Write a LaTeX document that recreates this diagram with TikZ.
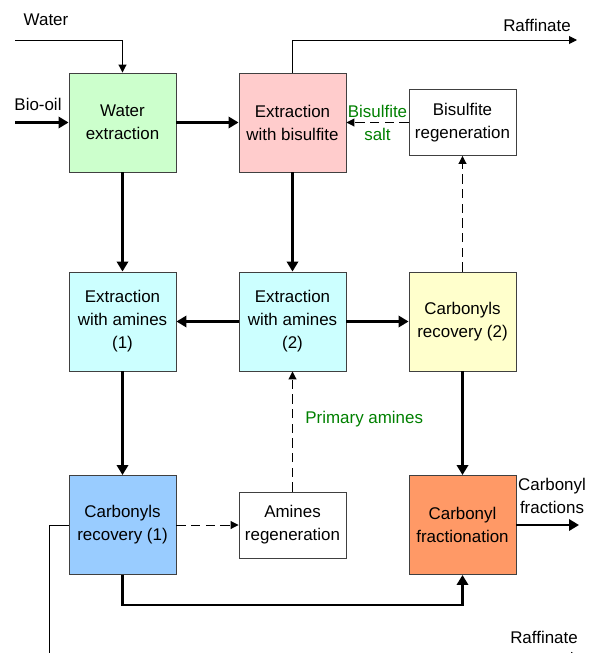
\documentclass[tikz,border=0pt]{standalone}
\usepackage{fontspec}
\setmainfont{Liberation Sans}
\usetikzlibrary{arrows.meta}

\definecolor{wetgreen}{HTML}{CCFFCC}
\definecolor{bispink}{HTML}{FFCCCC}
\definecolor{aminecyan}{HTML}{CCFFFF}
\definecolor{recyellow}{HTML}{FFFFCC}
\definecolor{recblue}{HTML}{99CCFF}
\definecolor{fracorange}{HTML}{FF9966}
\definecolor{labgreen}{HTML}{008000}

\begin{document}
\begin{tikzpicture}[x=0.75pt,y=-0.75pt,
    every node/.style={font=\fontsize{12.7}{17.25}\selectfont, align=center},
    unitbox/.style={draw=black!75, line width=0.7pt, minimum width=80.25pt, minimum height=74.25pt, inner sep=0pt},
    regenbox/.style={draw=black!75, line width=0.7pt, fill=white, minimum width=80.25pt, minimum height=49.5pt, inner sep=0pt},
    mainflow/.style={line width=1.8pt, -{Triangle[length=7.5pt,width=8.5pt]}},
    sideflow/.style={line width=0.75pt, -{Triangle[length=6pt,width=6pt]}},
    recycle/.style={line width=0.75pt, dash pattern=on 7pt off 4pt, -{Triangle[length=6pt,width=6pt]}},
    greenlab/.style={text=labgreen}]
    \useasboundingbox (0,0) rectangle (595,653);

    % process units
    \node[unitbox, fill=wetgreen] (we) at (122.5,122.5) {Water\\extraction};
    \node[unitbox, fill=bispink] (eb) at (292.5,122.5) {Extraction\\with bisulfite};
    \node[regenbox] (br) at (462.5,122.5) {Bisulfite\\regeneration};
    \node[unitbox, fill=aminecyan] (ea1) at (122.5,321.5) {Extraction\\with amines\\(1)};
    \node[unitbox, fill=aminecyan] (ea2) at (292.5,321.5) {Extraction\\with amines\\(2)};
    \node[unitbox, fill=recyellow] (cr2) at (462.5,321.5) {Carbonyls\\recovery (2)};
    \node[unitbox, fill=recblue] (cr1) at (122.5,525) {Carbonyls\\recovery (1)};
    \node[regenbox] (ar) at (292.5,525) {Amines\\regeneration};
    \node[unitbox, fill=fracorange] (cf) at (462.5,525) {Carbonyl\\fractionation};

    % feeds and products
    \coordinate (waterin) at (15,40);
    \coordinate (oilin) at (15,122.5);
    \coordinate (raftop) at (577,40);
    \coordinate (fracout) at (579,525);
    \coordinate (rafbot) at (579,656);
    \node (waterlab) at (46,20) {Water};
    \node (oillab) at (38,104) {Bio-oil};
    \node (raftoplab) at (537,25) {Raffinate};
    \node (fraclab) at (552,496) {Carbonyl\\fractions};
    \node (rafbotlab) at (544,637) {Raffinate};

    \draw[sideflow] (waterin) -| (we.north);
    \draw[mainflow] (oilin) -- (we.west);
    \draw[sideflow] (eb.north) |- (raftop);
    \draw[mainflow] (cf.east) -- (fracout);
    \draw[sideflow] (cr1.west) -| (49,656) -- (rafbot);

    % main streams
    \draw[mainflow] (we.east) -- (eb.west);
    \draw[mainflow] (we.south) -- (ea1.north);
    \draw[mainflow] (eb.south) -- (ea2.north);
    \draw[mainflow] (ea2.west) -- (ea1.east);
    \draw[mainflow] (ea2.east) -- (cr2.west);
    \draw[mainflow] (ea1.south) -- (cr1.north);
    \draw[mainflow] (cr2.south) -- (cf.north);
    \draw[mainflow] (cr1.south) -- ++(0,30) -| (cf.south);

    % recycle streams
    \draw[recycle] (br.west) -- node[greenlab] {Bisulfite\\salt} (eb.east);
    \draw[recycle] (cr2.north) -- (br.south);
    \draw[recycle] (cr1.east) -- (ar.west);
    \draw[recycle] (ar.north) -- node[greenlab, pos=0.6, right=6pt] {Primary amines} (ea2.south);
\end{tikzpicture}
\end{document}
